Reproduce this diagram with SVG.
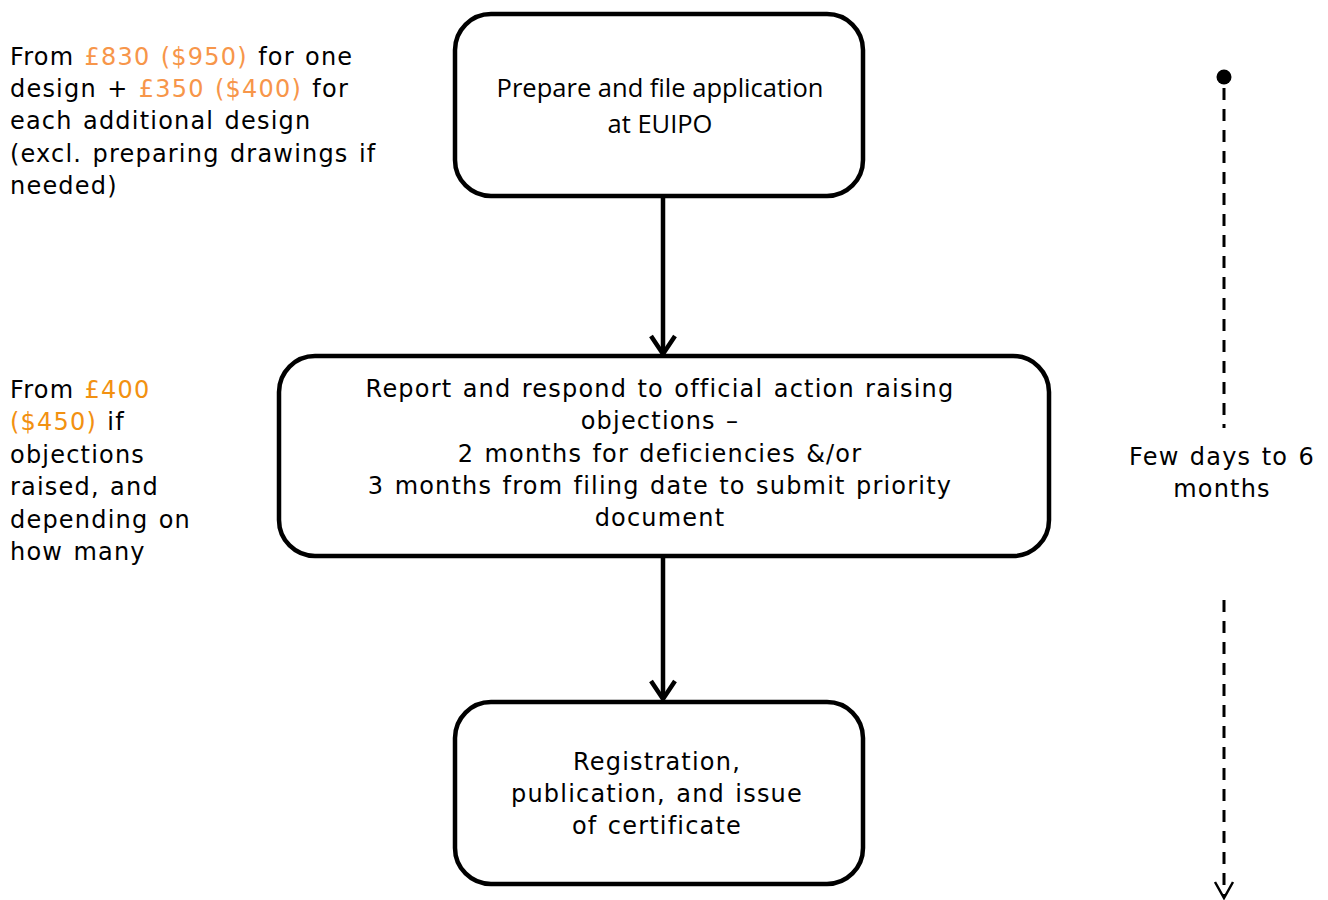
<svg xmlns="http://www.w3.org/2000/svg" width="1328" height="900" viewBox="0 0 1328 900">
<defs>
<style>
.box{fill:#fff;stroke:#000;stroke-width:4.5}
.t{font-family:"DejaVu Sans",Verdana,sans-serif;font-size:24px;letter-spacing:1.2px;word-spacing:1.5px;fill:#000}
.c{font-family:"Open Sans","Liberation Sans",sans-serif;font-size:25.5px;fill:#000}
.o1{fill:#F7964A}
.o2{fill:#F29111}
.con{fill:none;stroke:#000;stroke-width:4.5}
.dash{fill:none;stroke:#000;stroke-width:3;stroke-dasharray:12,9}
</style>
</defs>
<rect width="1328" height="900" fill="#fff"/>

<g id="cost-1">
<text class="t" x="10" y="65">From <tspan class="o1">£830 ($950)</tspan> for one</text>
<text class="t" x="10" y="97">design + <tspan class="o1">£350 ($400)</tspan> for</text>
<text class="t" x="10" y="129">each additional design</text>
<text class="t" x="10" y="162">(excl. preparing drawings if</text>
<text class="t" x="10" y="194">needed)</text>
</g>

<g id="cost-2">
<text class="t" x="10" y="398">From <tspan class="o2">£400</tspan></text>
<text class="t" x="10" y="430"><tspan class="o2">($450)</tspan> if</text>
<text class="t" x="10" y="463">objections</text>
<text class="t" x="10" y="495">raised, and</text>
<text class="t" x="10" y="528">depending on</text>
<text class="t" x="10" y="560">how many</text>
</g>

<g id="connectors">
<line class="con" x1="663" y1="196" x2="663" y2="354"/>
<path class="con" d="M651 336 L663 354 L675 336"/>
<line class="con" x1="663" y1="542" x2="663" y2="699"/>
<path class="con" d="M651 681 L663 699 L675 681"/>
</g>

<g id="step-1">
<rect class="box" x="455" y="14" width="408" height="182" rx="36"/>
<text class="c" x="660" y="97" text-anchor="middle">Prepare and file application</text>
<text class="c" x="660" y="133" text-anchor="middle">at EUIPO</text>
</g>

<g id="step-2">
<rect class="box" x="279" y="356" width="770" height="200" rx="36"/>
<text class="t" x="660" y="397" text-anchor="middle">Report and respond to official action raising</text>
<text class="t" x="660" y="429" text-anchor="middle">objections –</text>
<text class="t" x="660" y="462" text-anchor="middle">2 months for deficiencies &amp;/or</text>
<text class="t" x="660" y="494" text-anchor="middle">3 months from filing date to submit priority</text>
<text class="t" x="660" y="526" text-anchor="middle">document</text>
</g>

<g id="step-3">
<rect class="box" x="455" y="702" width="408" height="182" rx="36"/>
<text class="t" x="657" y="770" text-anchor="middle">Registration,</text>
<text class="t" x="657" y="802" text-anchor="middle">publication, and issue</text>
<text class="t" x="657" y="834" text-anchor="middle">of certificate</text>
</g>

<g id="timeline">
<circle cx="1224" cy="77" r="7.5" fill="#000"/>
<line class="dash" x1="1224" y1="88" x2="1224" y2="428"/>
<line class="dash" x1="1224" y1="600" x2="1224" y2="896"/>
<path fill="none" stroke="#000" stroke-width="2.5" d="M1215 882 L1224 898 L1233 882"/>
<text class="t" x="1222" y="465" text-anchor="middle">Few days to 6</text>
<text class="t" x="1222" y="497" text-anchor="middle">months</text>
</g>
</svg>
